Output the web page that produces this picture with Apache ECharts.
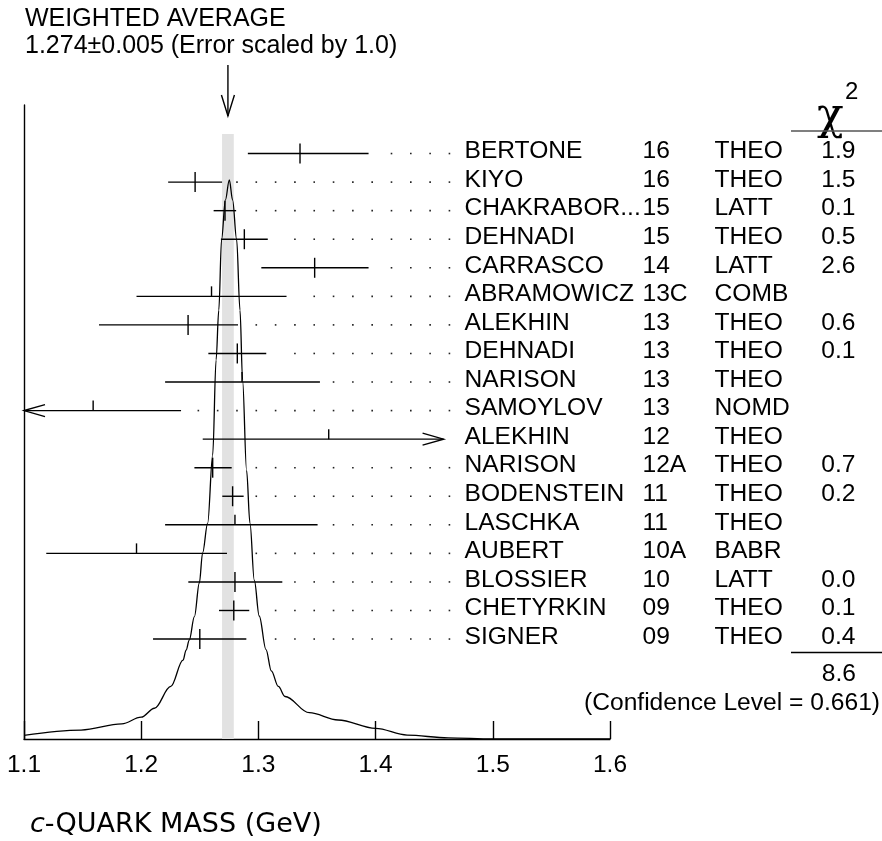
<!DOCTYPE html>
<html><head><meta charset="utf-8">
<script src="https://cdn.jsdelivr.net/npm/echarts@6/dist/echarts.min.js"></script>
<style>html,body{margin:0;padding:0;background:#fff}#c{width:882px;height:841px}</style>
</head><body><div id="c"></div><script>
// ---- data ----
const names  = ["BERTONE","KIYO","CHAKRABOR...","DEHNADI","CARRASCO","ABRAMOWICZ","ALEKHIN","DEHNADI","NARISON","SAMOYLOV","ALEKHIN","NARISON","BODENSTEIN","LASCHKA","AUBERT","BLOSSIER","CHETYRKIN","SIGNER"];
const years  = ["16","16","15","15","14","13C","13","13","13","13","12","12A","11","11","10A","10","09","09"];
const techs  = ["THEO","THEO","LATT","THEO","LATT","COMB","THEO","THEO","THEO","NOMD","THEO","THEO","THEO","THEO","BABR","LATT","THEO","THEO"];
const chi2   = ["1.9","1.5","0.1","0.5","2.6","","0.6","0.1","","","","0.7","0.2","","","0.0","0.1","0.4"];
const values = [1.3355,1.246,1.2715,1.288,1.348,1.260,1.240,1.282,1.286,1.159,1.360,1.261,1.278,1.280,1.196,1.280,1.279,1.250];
const lows   = [1.291,1.223,1.2618,1.268,1.3025,1.196,1.164,1.2573,1.2204,1.084,1.2525,1.2454,1.2692,1.2204,1.119,1.2402,1.2664,1.2101];
const highs  = [1.394,1.269,1.281,1.308,1.394,1.324,1.2826,1.3067,1.3525,1.234,1.458,1.2772,1.2874,1.3505,1.2732,1.3204,1.2922,1.2897];
const tickKind = ["full","full","full","full","full","up","full","full","up","up","up","full","full","up","up","full","full","full"];
const arrows = ["","","","","","","","","","left","right","","","","","","",""];
const curveX = [1.100,1.1487,1.1835,1.200,1.2113,1.2252,1.2357,1.2383,1.2410,1.2454,1.2496,1.2524,1.2567,1.2610,1.2639,1.2662,1.2686,1.2718,1.2752,1.2780,1.2814,1.2843,1.2865,1.2899,1.2928,1.2965,1.3007,1.3065,1.3110,1.3170,1.3227,1.3434,1.3680,1.400,1.4269,1.4619,1.500,1.600];
const curveY = [0.0066,0.016,0.027,0.039,0.055,0.094,0.141,0.159,0.177,0.219,0.279,0.333,0.386,0.508,0.678,0.767,0.894,0.964,1.0,0.964,0.894,0.767,0.642,0.481,0.386,0.284,0.220,0.160,0.122,0.094,0.076,0.047,0.034,0.019,0.007,0.002,0,0];
const xTicks = [1.1,1.2,1.3,1.4,1.5,1.6];
const WAVG = 1.274, WERR = 0.005;
const avgTitle = "WEIGHTED AVERAGE";
const avgText = "1.274\u00b10.005 (Error scaled by 1.0)";
const chi2Sum = "8.6";
const clText = "(Confidence Level = 0.661)";
const axisTitle = "{i|c}-QUARK MASS (GeV)";

// ---- layout constants ----
const FONT = '"Liberation Sans", Arial, Helvetica, sans-serif';
const FS = 24.6;
const ROW_MIN = -1.7, ROW_MAX = 20.5;
const DOT_END = 1.463, DOT_STEP = 0.01648;

const chart = echarts.init(document.getElementById('c'));
const st = {stroke:'#000', lineWidth:1.4};

function barItem(params, api){
  const i = params.dataIndex;
  const row = api.value(1), v = api.value(0), lo = api.value(2), hi = api.value(3);
  const c = api.coord([v,row]);
  const y = c[1];
  const xMin = api.coord([xTicks[0],row])[0];
  const loPx = Math.max(api.coord([lo,row])[0], xMin);
  const hiPx = api.coord([hi,row])[0];
  const ch = [];
  ch.push({type:'line', shape:{x1:loPx,y1:y,x2:hiPx,y2:y}, style:st});
  if (tickKind[i]==='full') ch.push({type:'line', shape:{x1:c[0],y1:y-10,x2:c[0],y2:y+10}, style:st});
  else ch.push({type:'line', shape:{x1:c[0],y1:y-10,x2:c[0],y2:y}, style:st});
  if (arrows[i]==='left'){
    ch.push({type:'polyline', shape:{points:[[loPx+21,y-6],[loPx,y],[loPx+21,y+6]]}, style:{stroke:'#000',lineWidth:1.4,fill:null}});
  } else if (arrows[i]==='right'){
    ch.push({type:'polyline', shape:{points:[[hiPx-21,y-6],[hiPx,y],[hiPx-21,y+6]]}, style:{stroke:'#000',lineWidth:1.4,fill:null}});
  }
  const step = api.size([DOT_STEP,0])[0];
  for (let x = api.coord([DOT_END,row])[0]; x > hiPx + 12; x -= step){
    ch.push({type:'rect', shape:{x:x-0.8,y:y-0.8,width:1.6,height:1.6}, style:{fill:'#222'}});
  }
  return {type:'group', children:ch};
}

function tableItem(params, api){
  const i = params.dataIndex;
  const c = api.coord([xTicks[xTicks.length-1], api.value(1)]);
  const y = c[1] - 2, x0 = c[0];
  const f = FS + 'px ' + FONT;
  const mk = (t,x,al)=>({type:'text', x:x, y:y, style:{text:t, font:f, fill:'#000', align:al, verticalAlign:'middle', textAlign:al, textVerticalAlign:'middle'}});
  const ch = [mk(names[i], x0-145.5, 'left'), mk(years[i], x0+32.5, 'left'), mk(techs[i], x0+104.5, 'left')];
  if (chi2[i]) ch.push(mk(chi2[i], x0+245.5, 'right'));
  return {type:'group', children:ch};
}

function bandItem(params, api){
  const lo = api.value(0), hi = api.value(1);
  const top = api.coord([lo, 0])[1] - 19.5;
  const a = api.coord([lo, ROW_MAX]);
  const b = api.coord([hi, ROW_MAX]);
  const xa = api.coord([WAVG, ROW_MIN]);
  return {type:'group', children:[
    {type:'rect', shape:{x:a[0], y:top, width:b[0]-a[0], height:a[1]-top}, style:{fill:'#e2e2e2'}},
    {type:'line', shape:{x1:xa[0], y1:xa[1]-40, x2:xa[0], y2:xa[1]+11}, style:st},
    {type:'polyline', shape:{points:[[xa[0]-6.5,xa[1]-10],[xa[0],xa[1]+11],[xa[0]+6.5,xa[1]-10]]}, style:{stroke:'#000',lineWidth:1.4,fill:null}}
  ]};
}

const rows = names.map((_,i)=>i);
const txt = (t,x,y,size,al,extra)=>({type:'text', x:x, y:y, style:Object.assign({text:t, font:size+'px '+FONT, fill:'#000', align:al||'left', textAlign:al||'left', verticalAlign:'middle', textVerticalAlign:'middle'}, extra||{})});

chart.setOption({
  animation:false,
  backgroundColor:'#fff',
  grid:{left:24, right:272, top:105, bottom:102, containLabel:false},
  xAxis:{type:'value', min:1.1, max:1.6, interval:0.1,
    axisLine:{show:true, onZero:false, lineStyle:{color:'#000', width:1.4}},
    axisTick:{show:true, inside:true, length:18, lineStyle:{color:'#000', width:1.4}},
    axisLabel:{color:'#000', fontSize:24.5, fontFamily:FONT, margin:14, formatter:v=>v.toFixed(1)},
    splitLine:{show:false}},
  yAxis:[
    {type:'value', inverse:true, min:ROW_MIN, max:ROW_MAX,
      axisLine:{show:true, onZero:false, lineStyle:{color:'#000', width:1.4}},
      axisTick:{show:false}, axisLabel:{show:false}, splitLine:{show:false}},
    {type:'value', min:0, max:1.134, show:false, splitLine:{show:false}}
  ],
  series:[
    {type:'custom', renderItem:bandItem, data:[[WAVG-WERR, WAVG+WERR]], clip:false, silent:true, z:1},
    {type:'line', yAxisIndex:1, data:curveX.map((x,i)=>[x,curveY[i]]), showSymbol:false, symbol:'none',
      smooth:0.35, smoothMonotone:'x', lineStyle:{color:'#000', width:1.3}, silent:true, z:3},
    {type:'custom', renderItem:barItem, data:rows.map(i=>[values[i], i, lows[i], highs[i]]), clip:false, silent:true, z:4},
    {type:'custom', renderItem:tableItem, data:rows.map(i=>[1.6, i]), clip:false, silent:true, z:4}
  ],
  graphic:[
    txt(avgTitle, 25, 19, 25),
    txt(avgText, 25, 46, 25),
    {type:'text', x:817, y:140, style:{text:'\u03c7', font:'44px "DejaVu Serif", serif', fill:'#000', align:'left', textAlign:'left', verticalAlign:'bottom', textVerticalAlign:'bottom'}},
    txt('2', 845, 92, 24),
    {type:'line', shape:{x1:791, y1:131, x2:882, y2:131}, style:{stroke:'#555', lineWidth:1.3}},
    {type:'line', shape:{x1:791, y1:652.5, x2:882, y2:652.5}, style:{stroke:'#000', lineWidth:1.3}},
    txt(chi2Sum, 856, 674, FS, 'right'),
    txt(clText, 880, 703, FS, 'right'),
    {type:'text', x:30, y:825, style:{text:axisTitle, font:'27px "DejaVu Sans", sans-serif', fill:'#000', align:'left', textAlign:'left', verticalAlign:'middle', textVerticalAlign:'middle', rich:{i:{fontStyle:'italic', fontSize:27, fontFamily:'DejaVu Sans'}}}}
  ]
});
</script></body></html>
